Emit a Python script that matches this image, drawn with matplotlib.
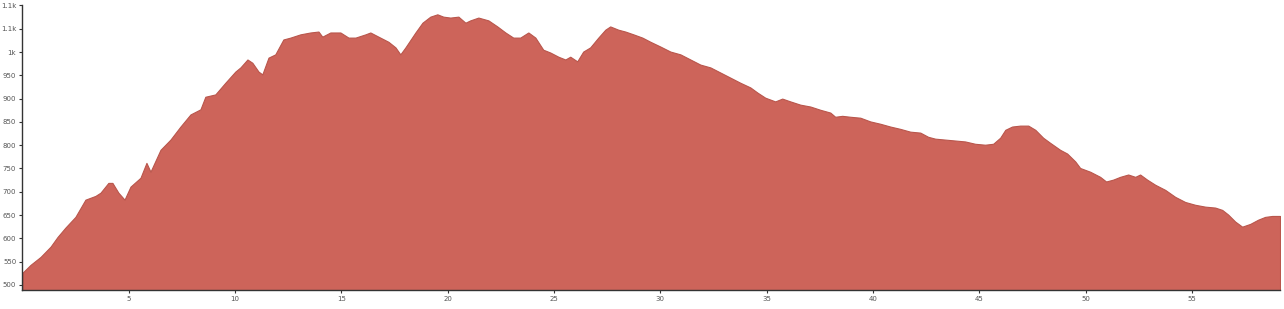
import matplotlib.pyplot as plt

# elevation profile (distance in km, elevation in m)
dist_km = [0, 0.38, 0.85, 1.32, 1.65, 2.02, 2.49, 2.96, 3.43, 3.67, 4.04, 4.23,
           4.51, 4.80, 5.08, 5.55, 5.83, 6.02, 6.25, 6.49, 6.96, 7.43, 7.90,
           8.37, 8.60, 9.07, 9.54, 10.01, 10.25, 10.58, 10.81, 11.10, 11.28,
           11.57, 11.89, 12.27, 12.60, 13.07, 13.54, 13.92, 14.10, 14.48,
           14.95, 15.33, 15.66, 16.13, 16.36, 16.74, 17.21, 17.54, 17.77,
           18.01, 18.48, 18.81, 19.18, 19.51, 19.79, 20.12, 20.50, 20.83,
           21.06, 21.44, 21.91, 22.33, 22.71, 23.08, 23.41, 23.79, 24.12,
           24.49, 24.82, 25.20, 25.53, 25.76, 26.09, 26.37, 26.70, 27.08,
           27.41, 27.64, 28.02, 28.35, 28.73, 29.15, 29.53, 29.99, 30.47,
           30.94, 31.41, 31.88, 32.35, 32.82, 33.29, 33.76, 34.23, 34.56,
           34.93, 35.40, 35.73, 36.11, 36.58, 37.05, 37.52, 37.99, 38.22,
           38.55, 38.93, 39.40, 39.87, 40.34, 40.81, 41.28, 41.75, 42.22,
           42.59, 42.92, 43.39, 43.86, 44.33, 44.80, 45.27, 45.65, 45.98,
           46.22, 46.54, 46.92, 47.30, 47.63, 48.00, 48.33, 48.80, 49.13,
           49.51, 49.74, 50.21, 50.68, 50.96, 51.29, 51.62, 52.00, 52.33,
           52.56, 52.89, 53.27, 53.74, 54.21, 54.68, 55.15, 55.62, 56.09,
           56.42, 56.70, 57.03, 57.36, 57.74, 58.11, 58.44, 58.77, 59.14]
elev_m = [526, 543, 560, 582, 603, 623, 646, 683, 691, 698, 719, 719,
          698, 683, 711, 730, 762, 743, 766, 790, 812, 840, 866,
          877, 904, 909, 934, 958, 967, 984, 977, 958, 952,
          988, 995, 1027, 1031, 1038, 1042, 1044, 1033, 1042,
          1042, 1031, 1031, 1038, 1042, 1033, 1022, 1010, 995,
          1010, 1042, 1063, 1076, 1081, 1076, 1074, 1076, 1063,
          1068, 1074, 1068, 1055, 1042, 1031, 1031, 1042, 1031,
          1005, 999, 990, 984, 990, 980, 1001, 1010, 1031,
          1048, 1055, 1048, 1044, 1038, 1031, 1022, 1012, 1001,
          995, 984, 973, 967, 956, 945, 934, 924, 913,
          902, 894, 900, 894, 887, 883, 876, 870, 861,
          863, 861, 859, 851, 846, 840, 835, 829, 827,
          818, 814, 812, 810, 808, 803, 801, 803, 816,
          833, 840, 842, 842, 833, 816, 805, 790, 782,
          765, 751, 743, 732, 722, 726, 732, 737, 732,
          737, 726, 715, 704, 689, 678, 672, 668, 666,
          661, 651, 636, 625, 631, 640, 646, 648, 648]

x_ticks = [5, 10, 15, 20, 25, 30, 35, 40, 45, 50, 55]
y_ticks = [500, 550, 600, 650, 700, 750, 800, 850, 900, 950, 1000, 1050, 1100]
y_labels = ['500', '550', '600', '650', '700', '750', '800', '850', '900',
            '950', '1k', '1.1k', '1.1k']

fig = plt.figure(figsize=(12.84, 3.09), dpi=100)
ax = fig.add_axes([0.0175, 0.0615, 0.9794, 0.9223])

ax.fill_between(dist_km, elev_m, 480, color='#cd645a', edgecolor='#b9564c', linewidth=0.8)

ax.set_xlim(0, dist_km[-1])
ax.set_ylim(489, 1101)
ax.set_xticks(x_ticks)
ax.set_yticks(y_ticks)
ax.set_yticklabels(y_labels)
ax.tick_params(labelsize=5, colors='#333333', length=2.5, width=0.8, pad=2)
ax.tick_params(axis='x', labelcolor='#555555')
ax.tick_params(axis='y', labelcolor='#555555')

for s in ['top', 'right']:
    ax.spines[s].set_visible(False)
for s in ['left', 'bottom']:
    ax.spines[s].set_color('#333333')
    ax.spines[s].set_linewidth(1)

fig.savefig('out.png', dpi=100)
